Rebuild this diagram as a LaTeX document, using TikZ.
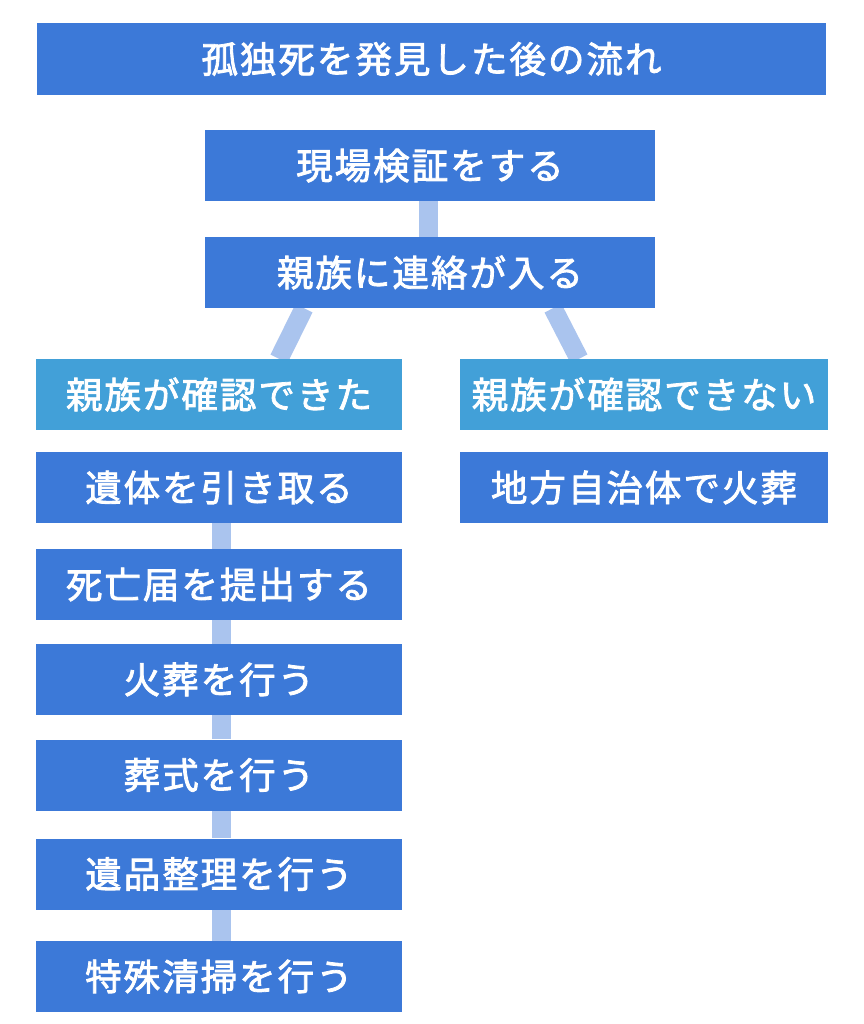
\documentclass[tikz,border=0pt]{standalone}
\usepackage{fontspec}
\newfontfamily\jp[LetterSpace=5.5,FakeBold=2.2]{Noto Sans CJK JP}
\usetikzlibrary{calc,backgrounds}
\definecolor{boxdark}{HTML}{3C79D8}
\definecolor{boxlight}{HTML}{42A0D8}
\definecolor{linkc}{HTML}{AAC4EE}
\tikzset{
  flowbox/.style={rectangle, fill=boxdark, draw=none, inner sep=0pt, text=white,
    font=\jp\fontsize{36.5}{40}\selectfont, minimum height=71pt},
  branchbox/.style={flowbox, fill=boxlight},
  link/.style={draw=linkc, line width=19pt}
}
\begin{document}
\begin{tikzpicture}[x=1pt,y=-1pt]
\useasboundingbox (0,0) rectangle (863,1024);
\node[flowbox, minimum width=789pt, minimum height=72pt] (title) at (431.5,59) {孤独死を発見した後の流れ};
\node[flowbox, minimum width=450pt] (kensho) at (430,165.5) {現場検証をする};
\node[flowbox, minimum width=450pt] (renraku) at (430,272.5) {親族に連絡が入る};
\node[branchbox, minimum width=366pt] (kakL) at (219,394.5) {親族が確認できた};
\node[branchbox, minimum width=368pt] (kakR) at (644,394.5) {親族が確認できない};
\node[flowbox, minimum width=366pt] (iitai) at (219,487.5) {遺体を引き取る};
\node[flowbox, minimum width=368pt] (chiho) at (644,487.5) {地方自治体で火葬};
\node[flowbox, minimum width=366pt] (shibo) at (219,584.5) {死亡届を提出する};
\node[flowbox, minimum width=366pt] (kaso) at (219,679.5) {火葬を行う};
\node[flowbox, minimum width=366pt] (soshiki) at (219,775) {葬式を行う};
\node[flowbox, minimum width=366pt] (ihin) at (219,874) {遺品整理を行う};
\node[flowbox, minimum width=366pt] (tokushu) at (219,976.5) {特殊清掃を行う};
\begin{scope}[on background layer]
\fill[white] (0,0) rectangle (863,1024);
\draw[link] ($(kensho.south)+(-2,0)$) -- ($(renraku.north)+(-2,0)$);
\draw[link] ($(renraku.south)+(-126,0)$) -- ($(kakL.north)+(60,0)$);
\draw[link] ($(renraku.south)+(123,0)$) -- ($(kakR.north)+(-65,0)$);
\draw[link] ($(iitai.south)+(2,0)$) -- ($(shibo.north)+(2,0)$);
\draw[link] ($(shibo.south)+(2,0)$) -- ($(kaso.north)+(2,0)$);
\draw[link] ($(kaso.south)+(2,0)$) -- ($(soshiki.north)+(2,0)$);
\draw[link] ($(soshiki.south)+(2,0)$) -- ($(ihin.north)+(2,0)$);
\draw[link] ($(ihin.south)+(2,0)$) -- ($(tokushu.north)+(2,0)$);
\end{scope}
\end{tikzpicture}
\end{document}
